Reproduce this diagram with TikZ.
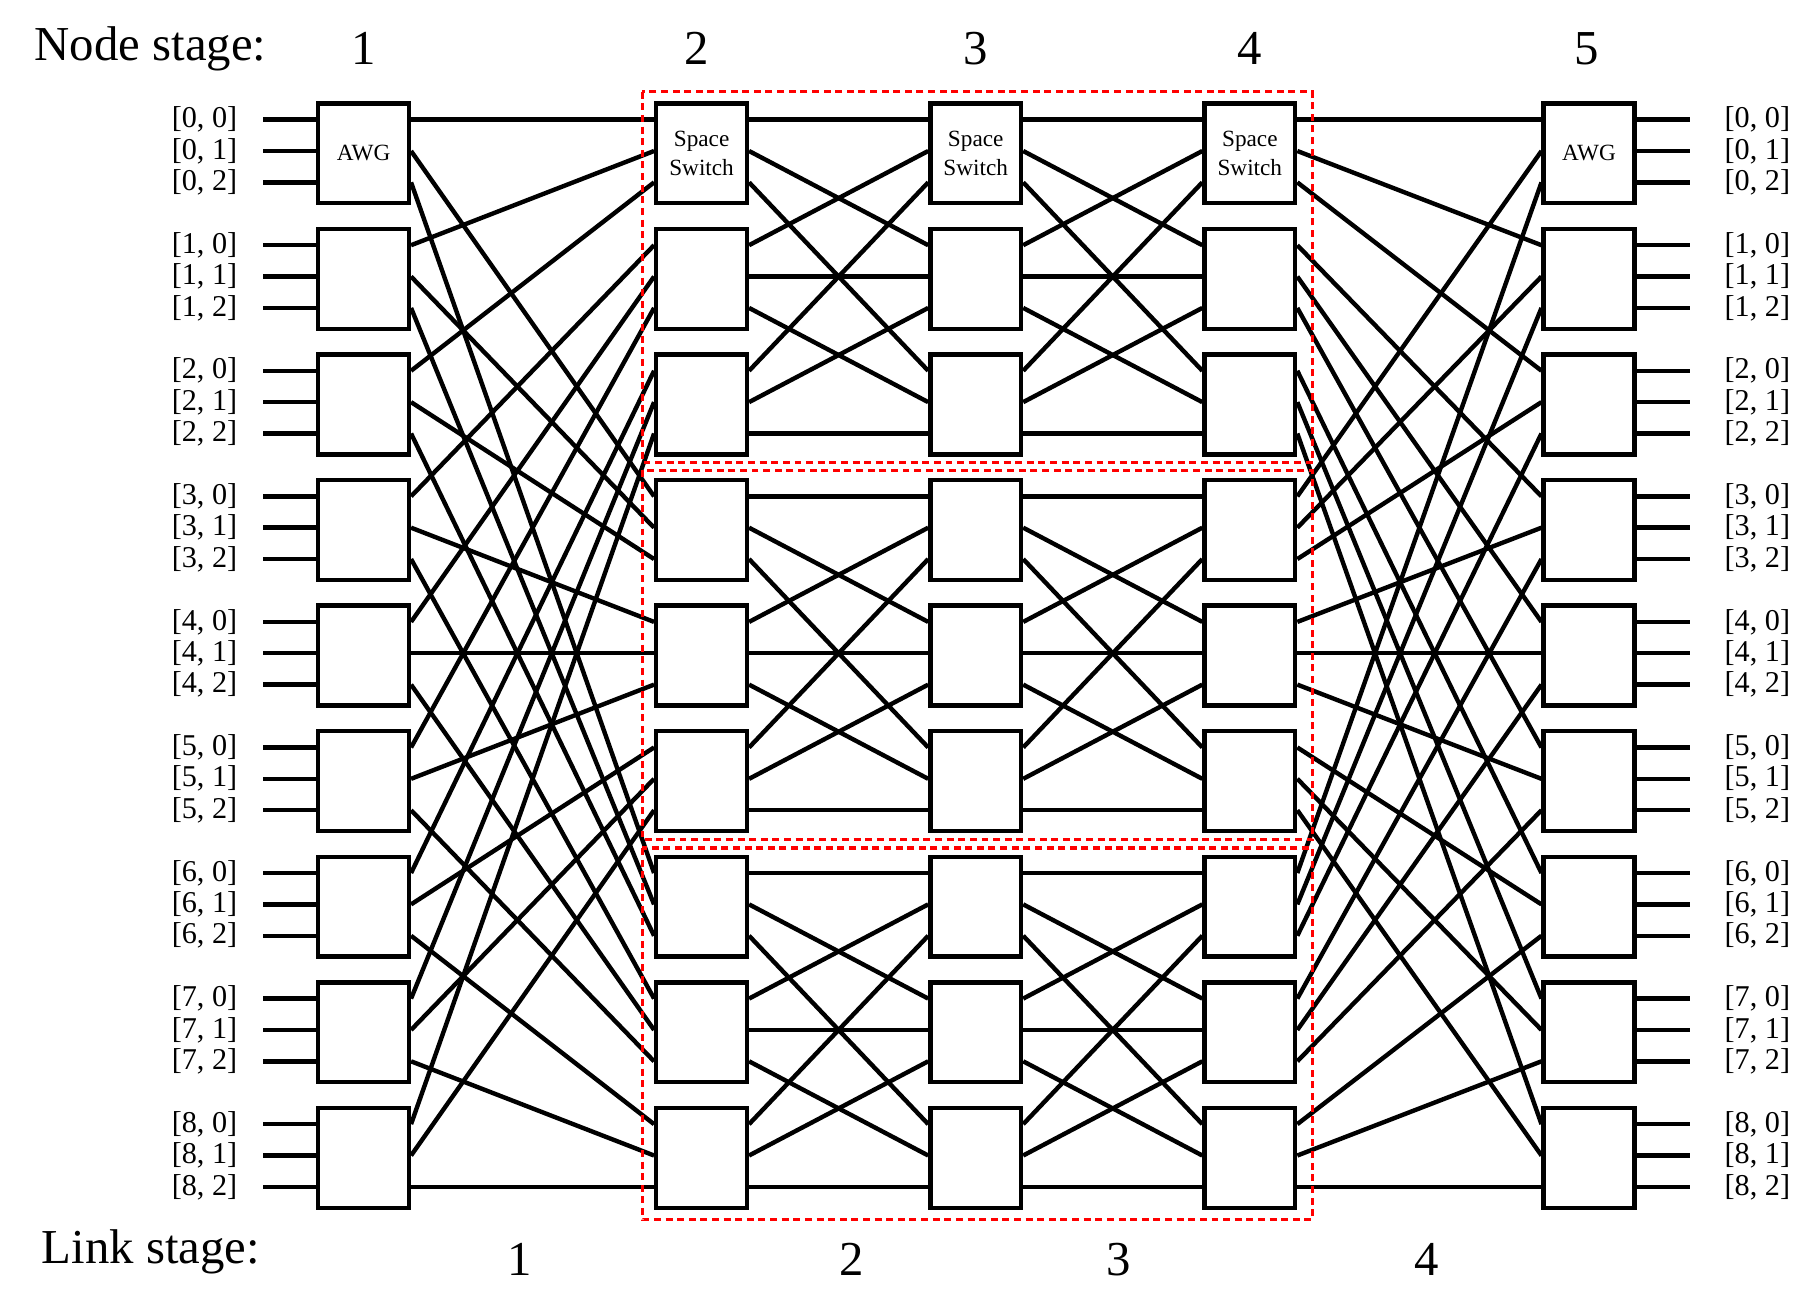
\documentclass[tikz,border=0pt]{standalone}
\usepackage{fontspec}
\setmainfont{Liberation Serif}
\begin{document}
\begin{tikzpicture}[x=1pt,y=-1pt,line width=3.8pt,
  box/.style={draw,minimum width=78pt,minimum height=86pt,inner sep=0pt,align=center,font=\fontsize{19}{21}\selectfont},
  lab/.style={font=\fontsize{26}{22}\selectfont,inner sep=0pt},
  ttl/.style={font=\fontsize{42}{42}\selectfont,inner sep=0pt},
  red/.style={draw=red,dashed,line width=2.8pt,dash pattern=on 6pt off 4pt}]
\useasboundingbox (0,0) rectangle (1560,1112);
\foreach \c/\x in {1/313,2/604,3/840,4/1076,5/1368}{
  \foreach \r in {0,...,8}{
    \node[box] (n\c-\r) at (\x,{132+108.1*\r}) {};
  }
}
\node[font=\fontsize{20}{21}\selectfont] at (n1-0) {AWG};
\node[font=\fontsize{20}{21}\selectfont] at (n5-0) {AWG};
\foreach \c in {2,3,4}{\node[font=\fontsize{20}{25}\selectfont,align=center] at (n\c-0) {Space\\Switch};}
% stubs and labels
\foreach \r in {0,...,8}{
  \foreach \j in {0,1,2}{
    \coordinate (L\r-\j) at ([yshift={(29-27*\j)*1pt}]n1-\r.west);
    \coordinate (R\r-\j) at ([yshift={(29-27*\j)*1pt}]n5-\r.east);
    \draw (L\r-\j) -- ++(-46,0) node[lab,left=20pt] {[\r, \j]};
    \draw (R\r-\j) -- ++(46,0) node[lab,right=28pt] {[\r, \j]};
  }
}
% links
\foreach \i in {0,...,8}{
  \foreach \j in {0,1,2}{
    \pgfmathtruncatemacro{\k}{3*\j+floor(\i/3)}
    \pgfmathtruncatemacro{\p}{mod(\i,3)}
    \pgfmathtruncatemacro{\g}{3*floor(\i/3)}
    \pgfmathtruncatemacro{\t}{\g+\j}
    \pgfmathsetmacro{\yo}{29-27*\j}
    \pgfmathsetmacro{\yp}{29-27*\p}
    \draw ([yshift=\yo pt]n1-\i.east) -- ([yshift=\yp pt]n2-\k.west);
    \draw ([yshift=\yp pt]n4-\k.east) -- ([yshift=\yo pt]n5-\i.west);
    \draw ([yshift=\yo pt]n2-\i.east) -- ([yshift=\yp pt]n3-\t.west);
    \draw ([yshift=\yo pt]n3-\i.east) -- ([yshift=\yp pt]n4-\t.west);
  }
}
\draw[red] (553,79) rectangle (1130,398);
\draw[red] (553,405) rectangle (1130,723);
\draw[red] (553,730) rectangle (1130,1050);
\node[ttl,anchor=west] (t1) at (28,42) {Node stage:};
\foreach \x/\n in {313/1,600/2,840/3,1076/4,1366/5}{\node[ttl] (s\n) at (\x,42) {\n};}
\node[ttl,anchor=west] (t2) at (34,1078) {Link stage:};
\foreach \x/\n in {447/1,733/2,963/3,1228/4}{\node[ttl] (l\n) at (\x,1084) {\n};}
\end{tikzpicture}
\end{document}
